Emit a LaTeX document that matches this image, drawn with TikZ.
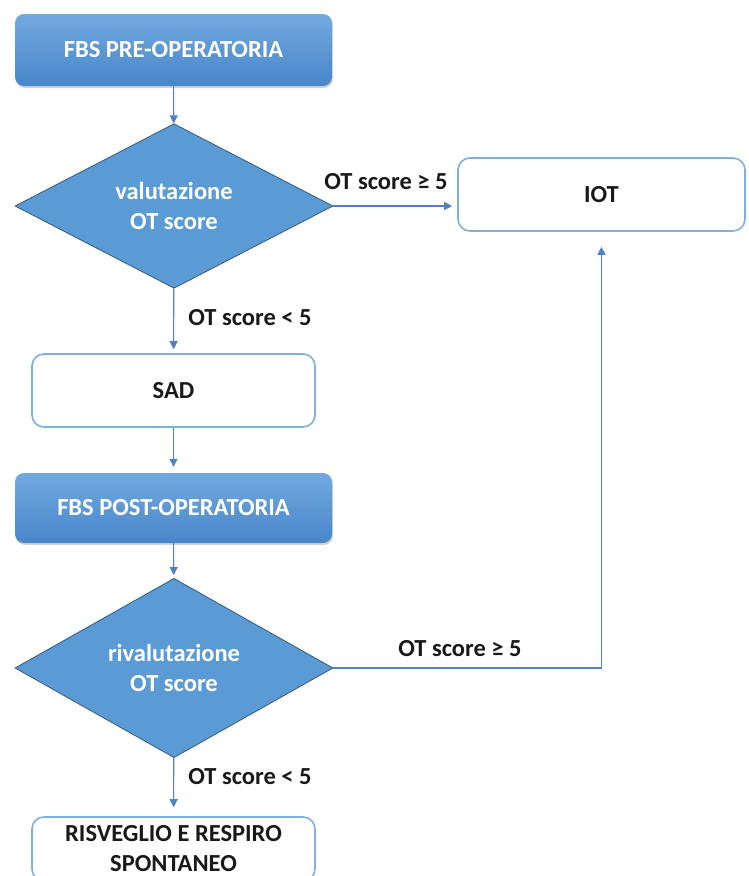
\documentclass[tikz,border=0pt]{standalone}
\usepackage{fontspec}
\setmainfont{Carlito}
\usetikzlibrary{positioning,shapes.geometric,arrows.meta,shadows}

\definecolor{fbstop}{RGB}{114,170,223}
\definecolor{fbsbot}{RGB}{72,134,202}
\definecolor{dfill}{RGB}{91,155,213}
\definecolor{dline}{RGB}{52,88,124}
\definecolor{bline}{RGB}{125,175,228}
\definecolor{aline}{RGB}{80,128,205}
\definecolor{txt}{RGB}{25,25,25}

\begin{document}
\begin{tikzpicture}[x=1pt,y=-1pt]
\tikzstyle{fbs}=[rectangle, rounded corners=9pt, top color=fbstop, bottom color=fbsbot, draw=none, text=white, minimum width=317pt, minimum height=72pt, font=\fontsize{24.5}{30}\selectfont\bfseries, drop shadow={shadow xshift=1pt, shadow yshift=-2pt, opacity=0.35}]
\tikzstyle{check}=[diamond, draw=dline, line width=0.8pt, fill=dfill, minimum width=318pt, minimum height=164pt, inner sep=0pt, text=white, align=center, font=\fontsize{24.5}{30}\selectfont\bfseries]
\tikzstyle{outbox}=[rectangle, rounded corners=12pt, draw=bline, line width=1.6pt, fill=white, text=txt, align=center, minimum height=73pt, font=\fontsize{24.5}{30}\selectfont\bfseries]
\tikzstyle{lbl}=[text=txt, font=\fontsize{24.5}{30}\selectfont\bfseries, inner sep=0pt]
\tikzstyle{connect}=[-{Triangle[length=8pt,width=8pt]}, draw=aline, line width=1.1pt]

	\useasboundingbox (0,0) rectangle (748,876);

	\node[fbs] (fbs_pre) at (173.5,50) []{FBS PRE-OPERATORIA};
	\node[check] (val_1) at (174,206) []{valutazione\\OT score};
	\node[outbox, minimum width=287pt] (iot) at (601.5,194.5) []{IOT};
	\node[outbox, minimum width=283pt] (sad) at (173.5,390.5) []{SAD};
	\node[fbs, minimum height=70pt] (fbs_post) at (173.5,508) []{FBS POST-OPERATORIA};
	\node[check] (val_2) at (174,668) []{rivalutazione\\OT score};
	\node[outbox, minimum width=283pt, minimum height=64pt] (risv) at (173.5,849) []{RISVEGLIO E RESPIRO\\SPONTANEO};

	\node[lbl] (lbl_1) at (386,182) []{OT score ≥ 5};
	\node[lbl] (lbl_2) at (250,318) []{OT score < 5};
	\node[lbl] (lbl_3) at (460,649) []{OT score ≥ 5};
	\node[lbl] (lbl_4) at (250,777) []{OT score < 5};

	\path
	 (fbs_pre) edge[connect] (val_1)
	 (val_1) edge[connect, shorten >=4pt] (sad)
	 (sad) edge[connect, shorten >=6pt] (fbs_post)
	 (fbs_post) edge[connect, shorten >=3pt] (val_2)
	 (val_2) edge[connect, shorten >=9pt] (risv);
	\draw[connect, shorten >=5pt] (val_1.east) -- (val_1.east -| iot.west);
	\draw[connect, shorten >=15pt] (val_2.east) -| (iot.south);

\end{tikzpicture}
\end{document}
